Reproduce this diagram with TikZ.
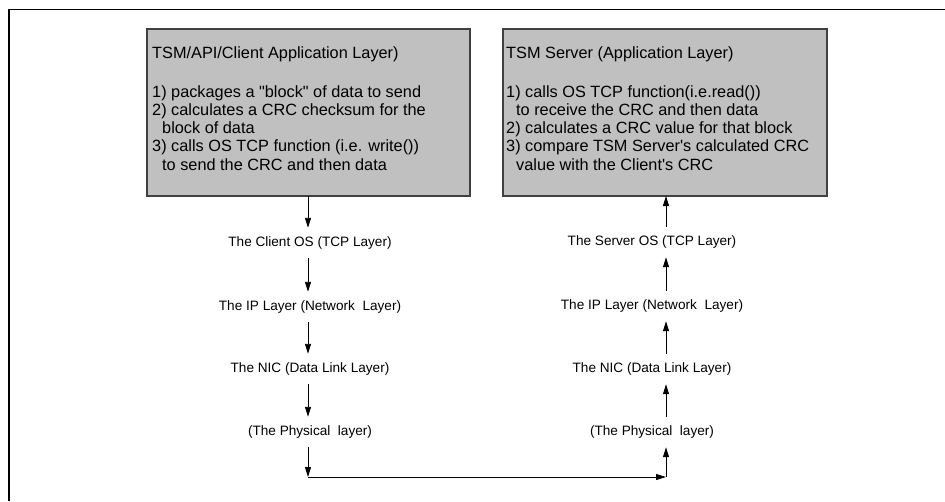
\documentclass[tikz,border=0pt]{standalone}
\usepackage{fontspec}
\setmainfont{Liberation Sans}[Ligatures=TeXOff]
\usetikzlibrary{arrows.meta}
\definecolor{boxgray}{HTML}{C0C0C0}
\begin{document}
\begin{tikzpicture}[x=1pt,y=-1pt,
  box/.style={draw=black!75, line width=1.4pt, fill=boxgray, inner sep=0pt, outer sep=0pt, anchor=north west},
  boxtxt/.style={anchor=north west, inner sep=0pt, align=left, font=\fontsize{16.3}{18.2}\selectfont},
  lay/.style={font=\fontsize{13.6}{16}\selectfont, inner sep=0pt, minimum height=30pt},
  arr/.style={line width=0.9pt, -{Triangle[length=10pt,width=6pt]}},
  frameline/.style={line width=1.4pt}]
\useasboundingbox (0,0) rectangle (945,501);
\draw[frameline] (945,9.5) -- (9,9.5) -- (9,501);

\node[box, minimum width=323pt, minimum height=167pt] (lbox) at (147,29) {};
\node[box, minimum width=324pt, minimum height=167pt] (rbox) at (503,29) {};

\node[boxtxt] (ltxt) at (152,46) {TSM/API/Client Application Layer)\\[21pt]
1) packages a "block" of data to send\\
2) calculates a CRC checksum for the\\
\hspace*{10pt}block of data\\
3) calls OS TCP function (i.e. write())\\
\hspace*{10pt}to send the CRC and then data};

\node[boxtxt] (rtxt) at (506,46) {TSM Server (Application Layer)\\[21pt]
1) calls OS TCP function(i.e.read())\\
\hspace*{10pt}to receive the CRC and then data\\
2) calculates a CRC value for that block\\
3) compare TSM Server's calculated CRC\\
\hspace*{10pt}value with the Client's CRC};

\coordinate (lx) at (308,0);
\coordinate (rx) at (666,0);

\node[lay] (lcos) at (310,243) {The Client OS (TCP Layer)};
\node[lay] (lip)  at (310,307) {The IP Layer (Network\ \ Layer)};
\node[lay] (lnic) at (310,369) {The NIC (Data Link Layer)};
\node[lay] (lphy) at (310,432) {(The Physical\ \ layer)};

\node[lay] (rcos) at (652,242) {The Server OS (TCP Layer)};
\node[lay] (rip)  at (652,306) {The IP Layer (Network\ \ Layer)};
\node[lay] (rnic) at (652,369) {The NIC (Data Link Layer)};
\node[lay] (rphy) at (652,432) {(The Physical\ \ layer)};

\coordinate (bl) at (308,477);
\coordinate (br) at (666,477);

\draw[arr] (lbox.south -| lx) -- (lcos.north -| lx);
\draw[arr] (lcos.south -| lx) -- (lip.north -| lx);
\draw[arr] (lip.south -| lx) -- (lnic.north -| lx);
\draw[arr] (lnic.south -| lx) -- (lphy.north -| lx);
\draw[arr] (lphy.south -| lx) -- (bl);
\draw[arr] (bl) -- (br);
\draw[arr] (br) -- (rphy.south -| rx);
\draw[arr] (rphy.north -| rx) -- (rnic.south -| rx);
\draw[arr] (rnic.north -| rx) -- (rip.south -| rx);
\draw[arr] (rip.north -| rx) -- (rcos.south -| rx);
\draw[arr] (rcos.north -| rx) -- (rbox.south -| rx);
\end{tikzpicture}
\end{document}
